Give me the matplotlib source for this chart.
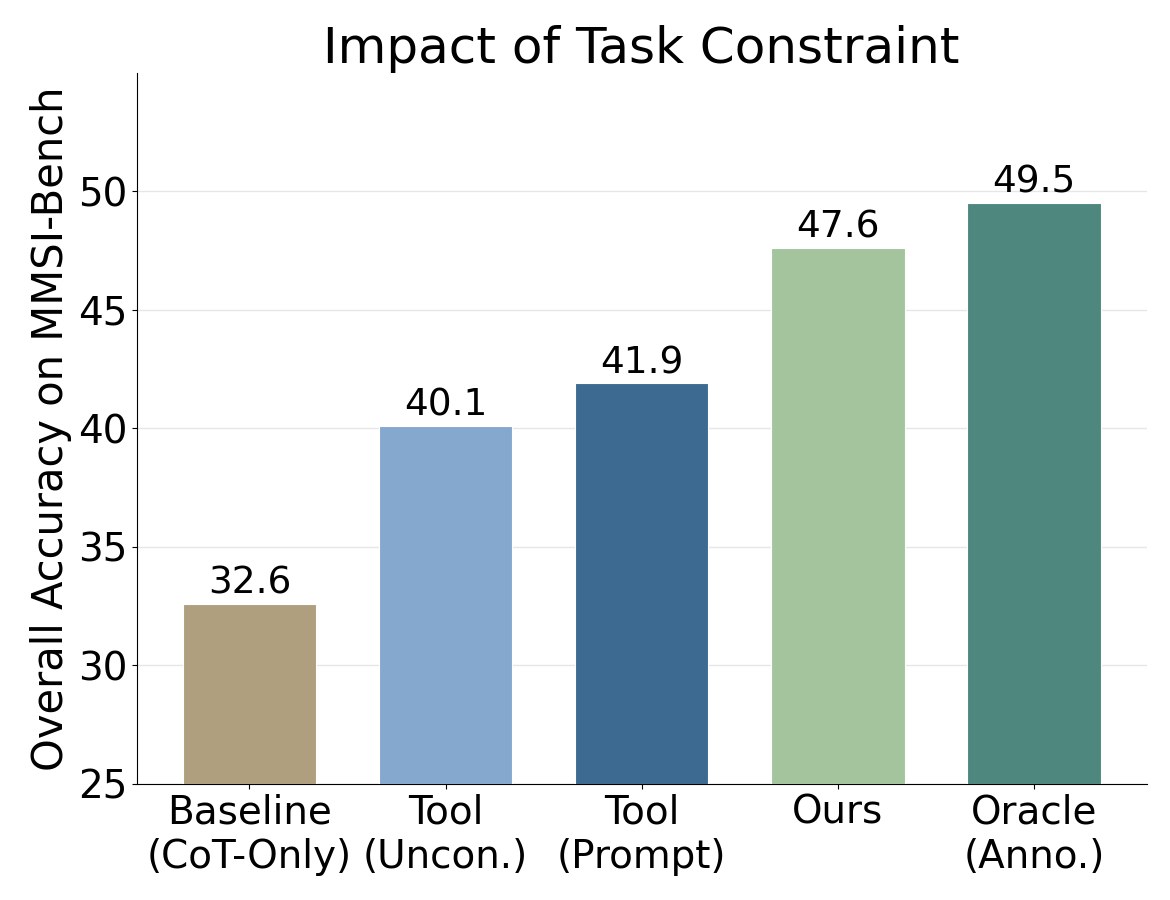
import matplotlib.pyplot as plt

categories = ["Baseline\n(CoT-Only)", "Tool\n(Uncon.)", "Tool\n(Prompt)", "Ours", "Oracle\n(Anno.)"]
accuracy = [32.6, 40.1, 41.9, 47.6, 49.5]
colors = ["#B09F7F", "#85A8CE", "#3C6A91", "#A4C49E", "#4E877E"]

fig, ax = plt.subplots(figsize=(11.7, 9), dpi=100)

bars = ax.bar(range(len(categories)), accuracy, width=0.68, color=colors,
              edgecolor="white", linewidth=0.8, zorder=3)

for b, v in zip(bars, accuracy):
    ax.text(b.get_x() + b.get_width() / 2, v + 0.1, f"{v:.1f}",
            ha="center", va="bottom", fontsize=27)

ax.set_ylim(25, 55)
ax.set_yticks([25, 30, 35, 40, 45, 50])
ax.set_xticks(range(len(categories)))
ax.set_xticklabels(categories)
ax.tick_params(axis="both", labelsize=28)
ax.set_ylabel("Overall Accuracy on MMSI-Bench", fontsize=30)
ax.set_title("Impact of Task Constraint", fontsize=36)
ax.grid(axis="y", color="#e6e6e6", linewidth=1, zorder=0)
ax.spines["top"].set_visible(False)
ax.spines["right"].set_visible(False)

fig.subplots_adjust(left=0.117, right=0.98, top=0.919, bottom=0.129)
plt.savefig("out.png")
